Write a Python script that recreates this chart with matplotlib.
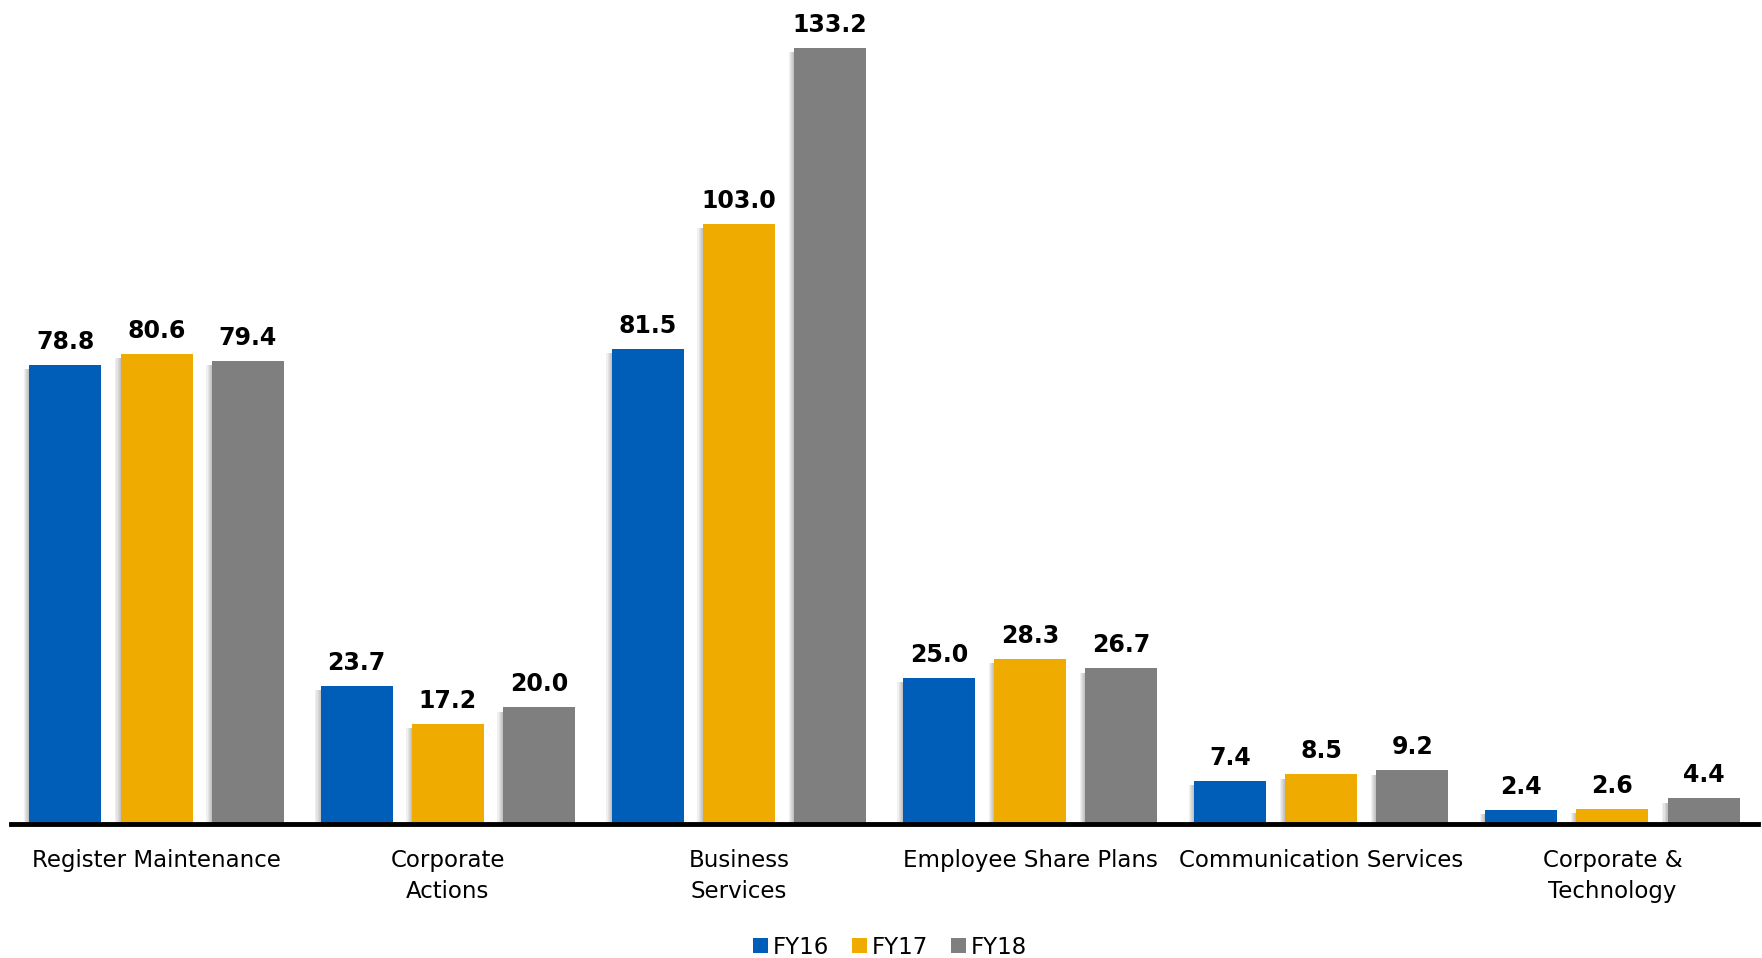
import matplotlib
matplotlib.use("Agg")
import matplotlib.pyplot as plt
import matplotlib.patheffects as pe
from matplotlib.patches import Patch
import numpy as np

# Revenue by business line, FY16-FY18
categories = ["Register Maintenance", "Corporate\nActions", "Business\nServices",
              "Employee Share Plans", "Communication Services", "Corporate &\nTechnology"]
fy16 = [78.8, 23.7, 81.5, 25.0, 7.4, 2.4]
fy17 = [80.6, 17.2, 103.0, 28.3, 8.5, 2.6]
fy18 = [79.4, 20.0, 133.2, 26.7, 9.2, 4.4]
series_names = ["FY16", "FY17", "FY18"]

colors = ["#005EB8", "#F0AB00", "#7F7F7F"]

plt.rcParams['font.family'] = ['DejaVu Sans']

fig = plt.figure(figsize=(17.62, 9.58), dpi=100)
ax = fig.add_axes([11 / 1762, 134 / 958, 1747 / 1762, 824 / 958])

x = np.arange(len(categories))
width = 0.247
step = 0.313

# soft drop shadow on the left edge: a few stacked faint copies
shadow = [pe.SimplePatchShadow(offset=(-k, -3), shadow_rgbFace="#606060", alpha=0.09)
          for k in (4.0, 3.0, 2.2, 1.5, 0.8)]
shadow.append(pe.Normal())

for i, (vals, name) in enumerate(zip([fy16, fy17, fy18], series_names)):
    bars = ax.bar(x + (i - 1) * step, vals, width, color=colors[i], zorder=2)
    for b, v in zip(bars, vals):
        b.set_path_effects(shadow)
        ax.annotate(f"{v:.1f}", (b.get_x() + b.get_width() / 2, v),
                    xytext=(0, 8), textcoords="offset points",
                    ha="center", va="bottom", fontsize=17, fontweight="bold")

ax.set_xlim(-0.5, len(categories) - 0.5)
ax.set_ylim(0, 141.4)
ax.set_yticks([])
ax.set_xticks(x)
ax.set_xticklabels(categories, fontsize=16.5, linespacing=1.45)
ax.tick_params(axis="x", length=0, pad=18)

for side in ["top", "left", "right"]:
    ax.spines[side].set_visible(False)
ax.spines["bottom"].set_linewidth(3.5)
ax.spines["bottom"].set_color("black")
ax.spines["bottom"].set_zorder(3)
ax.axhline(0, color="#BBBBBB", lw=1, zorder=2.5,
           path_effects=[pe.Stroke(offset=(0, -3), foreground="#BBBBBB", linewidth=1)])

handles = [Patch(facecolor=c, label=n) for c, n in zip(colors, series_names)]
fig.legend(handles=handles, loc="center", bbox_to_anchor=(890 / 1762, 11 / 958), ncol=3,
           frameon=False, fontsize=16.5, handlelength=0.65, handleheight=0.65,
           handletextpad=0.2, columnspacing=1.0, borderaxespad=0)

fig.savefig("out.png", dpi=100)
